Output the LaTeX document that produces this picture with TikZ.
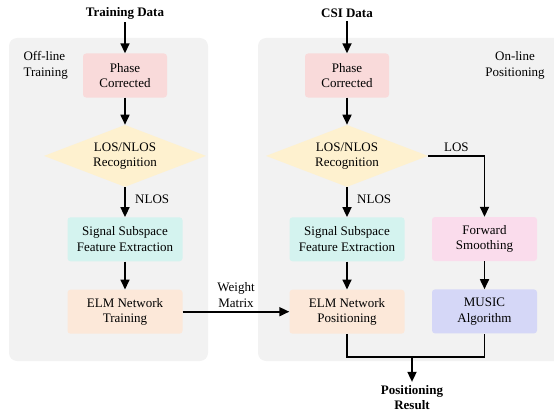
\documentclass[tikz,border=0pt]{standalone}
\usepackage{fontspec}
\setmainfont{Liberation Serif}
\usetikzlibrary{positioning,shapes.geometric,arrows.meta}

\definecolor{panelgray}{HTML}{F2F2F2}
\definecolor{phasepink}{HTML}{F9DADA}
\definecolor{decisionyellow}{HTML}{FEF1CF}
\definecolor{featureteal}{HTML}{D4F3EF}
\definecolor{elmpeach}{HTML}{FCE8D9}
\definecolor{smoothpink}{HTML}{FADCEC}
\definecolor{musicblue}{HTML}{D5D7F7}

\begin{document}
\begin{tikzpicture}[
    x=1pt, y=-1pt,
    node distance=28pt,
    stage/.style={
      rectangle,
      rounded corners=3pt,
      minimum width=115pt,
      minimum height=44pt,
      text centered,
      align=center,
      font=\fontsize{13}{15.5}\selectfont
    },
    decision/.style={
      diamond,
      aspect=2.6,
      inner sep=0pt,
      minimum width=162pt,
      minimum height=62pt,
      align=center,
      fill=decisionyellow,
      font=\fontsize{13}{15.5}\selectfont
    },
    panel/.style={
      fill=panelgray,
      rounded corners=8pt
    },
    arrow/.style={
      -{Triangle[length=10pt,width=9pt]},
      line width=1.7pt
    },
    link/.style={
      line width=1.7pt
    },
    title/.style={
      font=\bfseries\fontsize{13}{15}\selectfont,
      align=center
    },
    label/.style={
      font=\fontsize{13}{15.5}\selectfont,
      align=center
    }
  ]

    \useasboundingbox (0,0) rectangle (554,412);

    % Background panels
    \fill[panel] (9,38) rectangle (208,361);
    \clip (0,0) rectangle (554,412);
    \fill[panel] (258,38) rectangle (570,361);

    \node[label, align=left, anchor=north west] (offline) at (20,48) {Off-line\\Training};
    \node[label, anchor=north] (online) at (515,48) {On-line\\Positioning};

    % Left column: training
    \node[title] (traindata) at (125,13) {Training Data};
    \node (phaseL) [stage, fill=phasepink, minimum width=84pt] at (125,75.5) {Phase\\Corrected};
    \node (losL) [decision, below=27pt of phaseL] {LOS/NLOS\\Recognition};
    \node (featL) [stage, fill=featureteal, below=30pt of losL] {Signal Subspace\\Feature Extraction};
    \node (elmL) [stage, fill=elmpeach, below=of featL] {ELM Network\\Training};

    % Right column: positioning
    \node[title] (csidata) at (347,13) {CSI Data};
    \node (phaseR) [stage, fill=phasepink, minimum width=84pt] at (347,75.5) {Phase\\Corrected};
    \node (losR) [decision, below=27pt of phaseR] {LOS/NLOS\\Recognition};
    \node (featR) [stage, fill=featureteal, below=30pt of losR] {Signal Subspace\\Feature Extraction};
    \node (elmR) [stage, fill=elmpeach, below=of featR] {ELM Network\\Positioning};

    % LOS branch
    \node (smooth) [stage, fill=smoothpink, minimum width=105pt] at (484.5,239) {Forward\\Smoothing};
    \node (music) [stage, fill=musicblue, minimum width=105pt, below=of smooth] {MUSIC\\Algorithm};
    \coordinate (losturn) at (smooth.north |- losR.east);

    % Output
    \coordinate (merge) at (412,357);
    \node[title] (result) at (412,397.5) {Positioning\\Result};

    % Arrows on the left
    \draw[arrow] (traindata) -- (phaseL);
    \draw[arrow] (phaseL) -- (losL);
    \draw[arrow] (losL) -- node[label, right=6pt, pos=0.4] {NLOS} (featL);
    \draw[arrow] (featL) -- (elmL);
    \draw[arrow] (elmL) -- node[label, above] {Weight\\Matrix} (elmR);

    % Arrows on the right
    \draw[arrow] (csidata) -- (phaseR);
    \draw[arrow] (phaseR) -- (losR);
    \draw[arrow] (losR) -- node[label, right=6pt, pos=0.4] {NLOS} (featR);
    \draw[arrow] (featR) -- (elmR);
    \draw[link] (losR.east) -- node[label, above, pos=0.5] {LOS} (losturn);
    \draw[arrow] (losturn) -- (smooth);
    \draw[arrow] (smooth) -- (music);

    % Merging both results
    \draw[link] (elmR.south) |- (merge) -| (music.south);
    \draw[arrow] (merge) -- (result.north);

  \end{tikzpicture}
\end{document}
